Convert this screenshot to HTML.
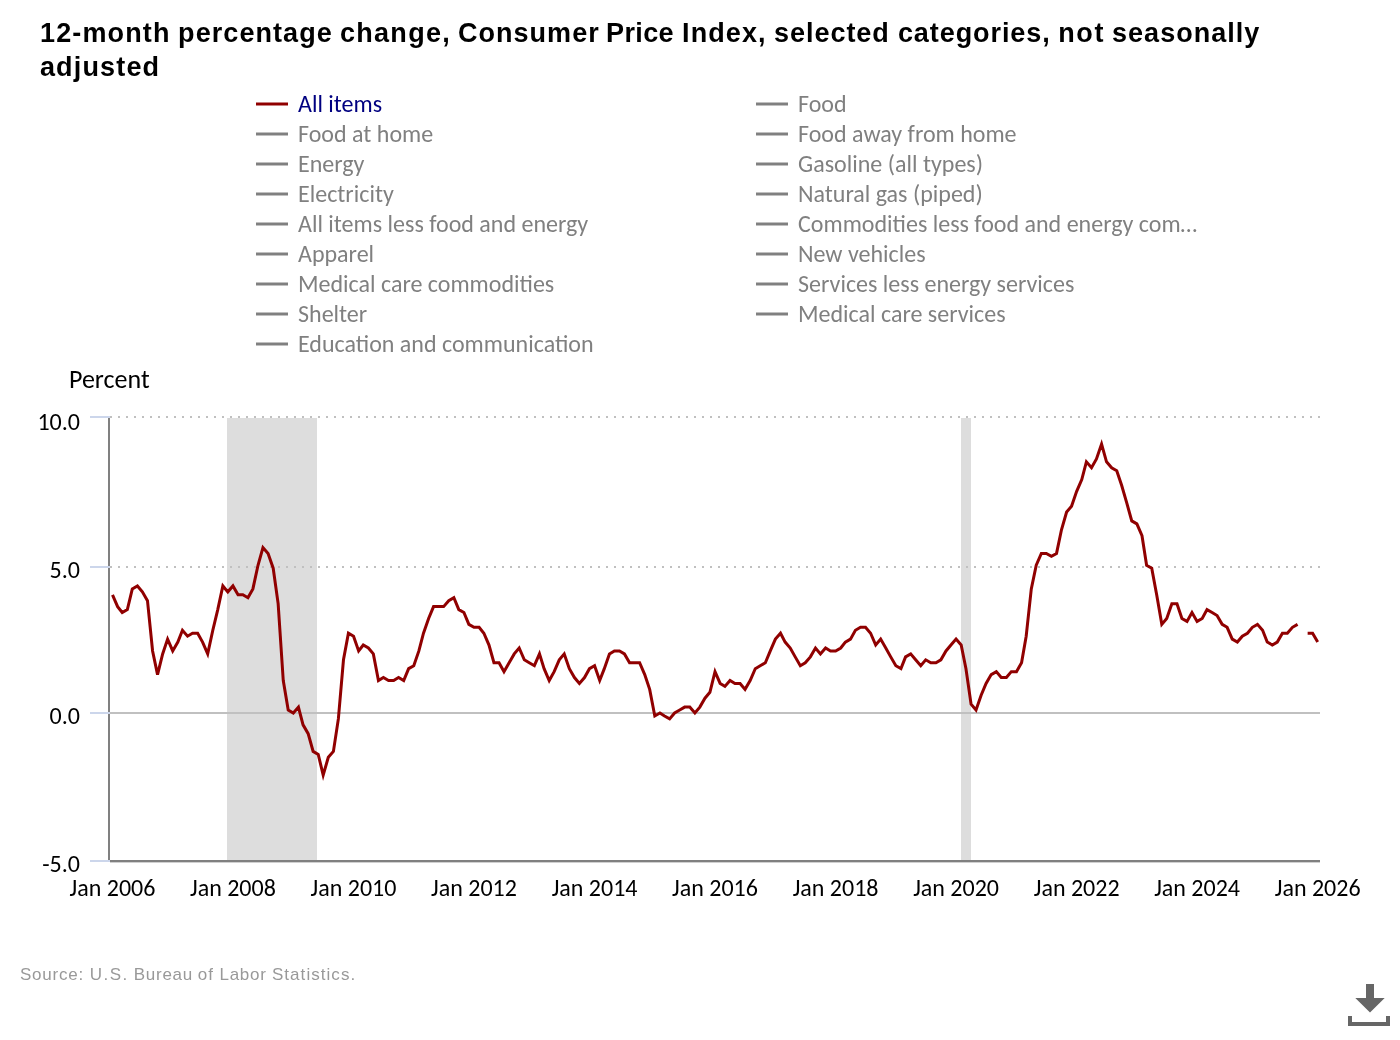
<!DOCTYPE html>
<html><head><meta charset="utf-8"><title>12-month percentage change, Consumer Price Index</title>
<style>
html,body{margin:0;padding:0;background:#fff;}
body{width:1400px;height:1040px;overflow:hidden;position:relative;}
svg{position:absolute;left:0;top:0;display:block;will-change:transform;}
</style></head>
<body>
<svg width="1400" height="1040" viewBox="0 0 1400 1040">
<rect x="0" y="0" width="1400" height="1040" fill="#ffffff"/>
<g font-family="'Liberation Sans', Arial, sans-serif" font-size="27" font-weight="700" fill="#000" letter-spacing="0.9">
<text y="42"><tspan x="40.06" textLength="130.23">12-month</tspan> <tspan x="178.09" textLength="154.58">percentage</tspan> <tspan x="340.09" textLength="110.46">change,</tspan> <tspan x="457.9" textLength="141.75">Consumer</tspan> <tspan x="606.12" textLength="68.36">Price</tspan> <tspan x="682.06" textLength="84.45">Index,</tspan> <tspan x="773.94" textLength="115.82">selected</tspan> <tspan x="897.88" textLength="152.77">categories,</tspan> <tspan x="1058.18" textLength="46.11">not</tspan> <tspan x="1112.04" textLength="148.22">seasonally</tspan></text>
<text x="39.9" y="75.5" textLength="120.1">adjusted</text>
</g>
<g font-family="Carlito, Lato, 'Liberation Sans', sans-serif" font-size="24" fill="none">
<path d="M256 104 H288" stroke="#900000" stroke-width="3"/><text x="298" y="112" fill="#000080">All items</text><path d="M256 134 H288" stroke="#808080" stroke-width="3"/><text x="298" y="142" fill="#808080">Food at home</text><path d="M256 164 H288" stroke="#808080" stroke-width="3"/><text x="298" y="172" fill="#808080">Energy</text><path d="M256 194 H288" stroke="#808080" stroke-width="3"/><text x="298" y="202" fill="#808080">Electricity</text><path d="M256 224 H288" stroke="#808080" stroke-width="3"/><text x="298" y="232" fill="#808080">All items less food and energy</text><path d="M256 254 H288" stroke="#808080" stroke-width="3"/><text x="298" y="262" fill="#808080">Apparel</text><path d="M256 284 H288" stroke="#808080" stroke-width="3"/><text x="298" y="292" fill="#808080">Medical care commodities</text><path d="M256 314 H288" stroke="#808080" stroke-width="3"/><text x="298" y="322" fill="#808080">Shelter</text><path d="M256 344 H288" stroke="#808080" stroke-width="3"/><text x="298" y="352" fill="#808080">Education and communication</text><path d="M756 104 H788" stroke="#808080" stroke-width="3"/><text x="798" y="112" fill="#808080">Food</text><path d="M756 134 H788" stroke="#808080" stroke-width="3"/><text x="798" y="142" fill="#808080">Food away from home</text><path d="M756 164 H788" stroke="#808080" stroke-width="3"/><text x="798" y="172" fill="#808080">Gasoline (all types)</text><path d="M756 194 H788" stroke="#808080" stroke-width="3"/><text x="798" y="202" fill="#808080">Natural gas (piped)</text><path d="M756 224 H788" stroke="#808080" stroke-width="3"/><text x="798" y="232" fill="#808080">Commodities less food and energy com…</text><path d="M756 254 H788" stroke="#808080" stroke-width="3"/><text x="798" y="262" fill="#808080">New vehicles</text><path d="M756 284 H788" stroke="#808080" stroke-width="3"/><text x="798" y="292" fill="#808080">Services less energy services</text><path d="M756 314 H788" stroke="#808080" stroke-width="3"/><text x="798" y="322" fill="#808080">Medical care services</text>
</g>
<text x="69" y="387.7" font-family="Carlito, Lato, 'Liberation Sans', sans-serif" font-size="26" fill="#000">Percent</text>
<!-- plot bands -->
<rect x="227" y="418" width="90" height="442" fill="#dddddd"/>
<rect x="961" y="418" width="10" height="442" fill="#dddddd"/>
<!-- grid -->
<g stroke="#c0c0c0" stroke-width="2" stroke-dasharray="2 6" fill="none">
<path d="M110 417 H1320"/><path d="M110 567 H1320"/>
</g>
<path d="M110 713 H1320" stroke="#c0c0c0" stroke-width="2" fill="none"/>
<!-- axes -->
<path d="M109 418 V860" stroke="#808080" stroke-width="2" fill="none"/>
<path d="M110 861 H1320" stroke="#808080" stroke-width="2" fill="none"/>
<path d="M110 862.5 H1320" stroke="#d0d0d0" stroke-width="1" fill="none"/>
<!-- ticks -->
<g stroke="#ccd6eb" stroke-width="2" fill="none">
<path d="M90 417 H110"/><path d="M90 567 H110"/><path d="M90 713 H110"/><path d="M90 861 H110"/>
</g>
<!-- series -->
<path d="M112.50 594.80 L117.61 606.62 L122.23 612.53 L127.35 609.58 L132.30 588.89 L137.41 585.93 L142.36 591.85 L147.48 600.71 L152.59 650.94 L157.54 674.59 L162.65 653.90 L167.60 639.12 L172.72 650.94 L177.83 642.08 L182.45 630.26 L187.57 636.17 L192.52 633.22 L197.63 633.22 L202.58 642.08 L207.70 653.90 L212.81 630.26 L217.76 609.58 L222.87 585.93 L227.82 591.85 L232.94 585.93 L238.05 594.80 L242.84 594.80 L247.95 597.75 L252.90 588.89 L258.01 565.25 L262.96 547.52 L268.08 553.43 L273.19 568.20 L278.14 603.66 L283.26 680.50 L288.21 710.04 L293.32 713.00 L298.44 707.09 L303.06 724.82 L308.17 733.68 L313.12 751.41 L318.23 754.37 L323.18 775.06 L328.30 757.33 L333.41 751.41 L338.36 718.91 L343.48 659.81 L348.43 633.22 L353.54 636.17 L358.65 650.94 L363.27 645.03 L368.39 647.99 L373.34 653.90 L378.45 680.50 L383.40 677.54 L388.52 680.50 L393.63 680.50 L398.58 677.54 L403.69 680.50 L408.64 668.67 L413.76 665.72 L418.87 650.94 L423.49 633.22 L428.61 618.44 L433.56 606.62 L438.67 606.62 L443.62 606.62 L448.74 600.71 L453.85 597.75 L458.80 609.58 L463.91 612.53 L468.86 624.35 L473.98 627.31 L479.09 627.31 L483.88 633.22 L488.99 645.03 L493.94 662.76 L499.05 662.76 L504.00 671.63 L509.12 662.76 L514.23 653.90 L519.18 647.99 L524.30 659.81 L529.25 662.76 L534.36 665.72 L539.48 653.90 L544.10 668.67 L549.21 680.50 L554.16 671.63 L559.27 659.81 L564.22 653.90 L569.34 668.67 L574.45 677.54 L579.40 683.45 L584.52 677.54 L589.47 668.67 L594.58 665.72 L599.69 680.50 L604.31 668.67 L609.43 653.90 L614.38 650.94 L619.49 650.94 L624.44 653.90 L629.56 662.76 L634.67 662.76 L639.62 662.76 L644.73 674.59 L649.68 689.36 L654.80 715.96 L659.91 713.00 L664.53 715.96 L669.65 718.91 L674.60 713.00 L679.71 710.04 L684.66 707.09 L689.78 707.09 L694.89 713.00 L699.84 707.09 L704.95 698.23 L709.90 692.32 L715.02 671.63 L720.13 683.45 L724.92 686.40 L730.03 680.50 L734.98 683.45 L740.09 683.45 L745.04 689.36 L750.16 680.50 L755.27 668.67 L760.22 665.72 L765.34 662.76 L770.29 650.94 L775.40 639.12 L780.52 633.22 L785.14 642.08 L790.25 647.99 L795.20 656.86 L800.31 665.72 L805.26 662.76 L810.38 656.86 L815.49 647.99 L820.44 653.90 L825.56 647.99 L830.51 650.94 L835.62 650.94 L840.73 647.99 L845.35 642.08 L850.47 639.12 L855.42 630.26 L860.53 627.31 L865.48 627.31 L870.60 633.22 L875.71 645.03 L880.66 639.12 L885.77 647.99 L890.72 656.86 L895.84 665.72 L900.95 668.67 L905.57 656.86 L910.69 653.90 L915.64 659.81 L920.75 665.72 L925.70 659.81 L930.82 662.76 L935.93 662.76 L940.88 659.81 L945.99 650.94 L950.94 645.03 L956.06 639.12 L961.17 645.03 L965.96 668.67 L971.07 704.13 L976.02 710.04 L981.13 695.27 L986.08 683.45 L991.20 674.59 L996.31 671.63 L1001.26 677.54 L1006.38 677.54 L1011.33 671.63 L1016.44 671.63 L1021.56 662.76 L1026.18 636.17 L1031.29 588.89 L1036.24 565.25 L1041.35 553.43 L1046.30 553.43 L1051.42 556.38 L1056.53 553.43 L1061.48 529.79 L1066.60 512.06 L1071.55 506.15 L1076.66 491.38 L1081.77 479.55 L1086.39 461.82 L1091.51 467.74 L1096.46 458.87 L1101.57 444.10 L1106.52 461.82 L1111.64 467.74 L1116.75 470.69 L1121.70 485.47 L1126.81 503.19 L1131.76 520.92 L1136.88 523.88 L1141.99 535.70 L1146.61 565.25 L1151.73 568.20 L1156.68 594.80 L1161.79 624.35 L1166.74 618.44 L1171.86 603.66 L1176.97 603.66 L1181.92 618.44 L1187.03 621.39 L1191.98 612.53 L1197.10 621.39 L1202.21 618.44 L1207.00 609.58 L1212.11 612.53 L1217.06 615.49 L1222.17 624.35 L1227.12 627.31 L1232.24 639.12 L1237.35 642.08 L1242.30 636.17 L1247.42 633.22 L1252.37 627.31 L1257.48 624.35 L1262.60 630.26 L1267.22 642.08 L1272.33 645.03 L1277.28 642.08 L1282.39 633.22 L1287.34 633.22 L1292.46 627.31 L1297.57 624.35 M1307.64 633.22 L1312.59 633.22 L1317.70 642.08" stroke="#900000" stroke-width="3" fill="none" stroke-linejoin="miter" stroke-linecap="butt"/>
<g font-family="Carlito, Lato, 'Liberation Sans', sans-serif" font-size="24" fill="#000">
<text x="80" y="429.7" text-anchor="end">10.0</text><text x="80" y="577.7" text-anchor="end">5.0</text><text x="80" y="723.6" text-anchor="end">0.0</text><text x="80" y="871.6" text-anchor="end">-5.0</text>
<text x="112.50" y="895.7" text-anchor="middle">Jan 2006</text><text x="232.94" y="895.7" text-anchor="middle">Jan 2008</text><text x="353.54" y="895.7" text-anchor="middle">Jan 2010</text><text x="473.98" y="895.7" text-anchor="middle">Jan 2012</text><text x="594.58" y="895.7" text-anchor="middle">Jan 2014</text><text x="715.02" y="895.7" text-anchor="middle">Jan 2016</text><text x="835.62" y="895.7" text-anchor="middle">Jan 2018</text><text x="956.06" y="895.7" text-anchor="middle">Jan 2020</text><text x="1076.66" y="895.7" text-anchor="middle">Jan 2022</text><text x="1197.10" y="895.7" text-anchor="middle">Jan 2024</text><text x="1317.70" y="895.7" text-anchor="middle">Jan 2026</text>
</g>
<text y="980" font-family="'Liberation Sans', Arial, sans-serif" font-size="17" fill="#999999" letter-spacing="0.9"><tspan x="19.88" textLength="64.3">Source:</tspan> <tspan x="89.83" textLength="38.32">U.S.</tspan> <tspan x="133.78" textLength="59.31">Bureau</tspan> <tspan x="197.85" textLength="15.96">of</tspan> <tspan x="219.52" textLength="47.27">Labor</tspan> <tspan x="271.95" textLength="84.12">Statistics.</tspan></text>
<!-- download icon -->
<g fill="#666666">
<path d="M1366 984 H1374 V998 H1384.7 L1370 1012.6 L1355.3 998 H1366 Z"/>
<path d="M1348 1016 H1352 V1022 H1386 V1016 H1390 V1026 H1348 Z"/>
</g>
</svg>
</body></html>
